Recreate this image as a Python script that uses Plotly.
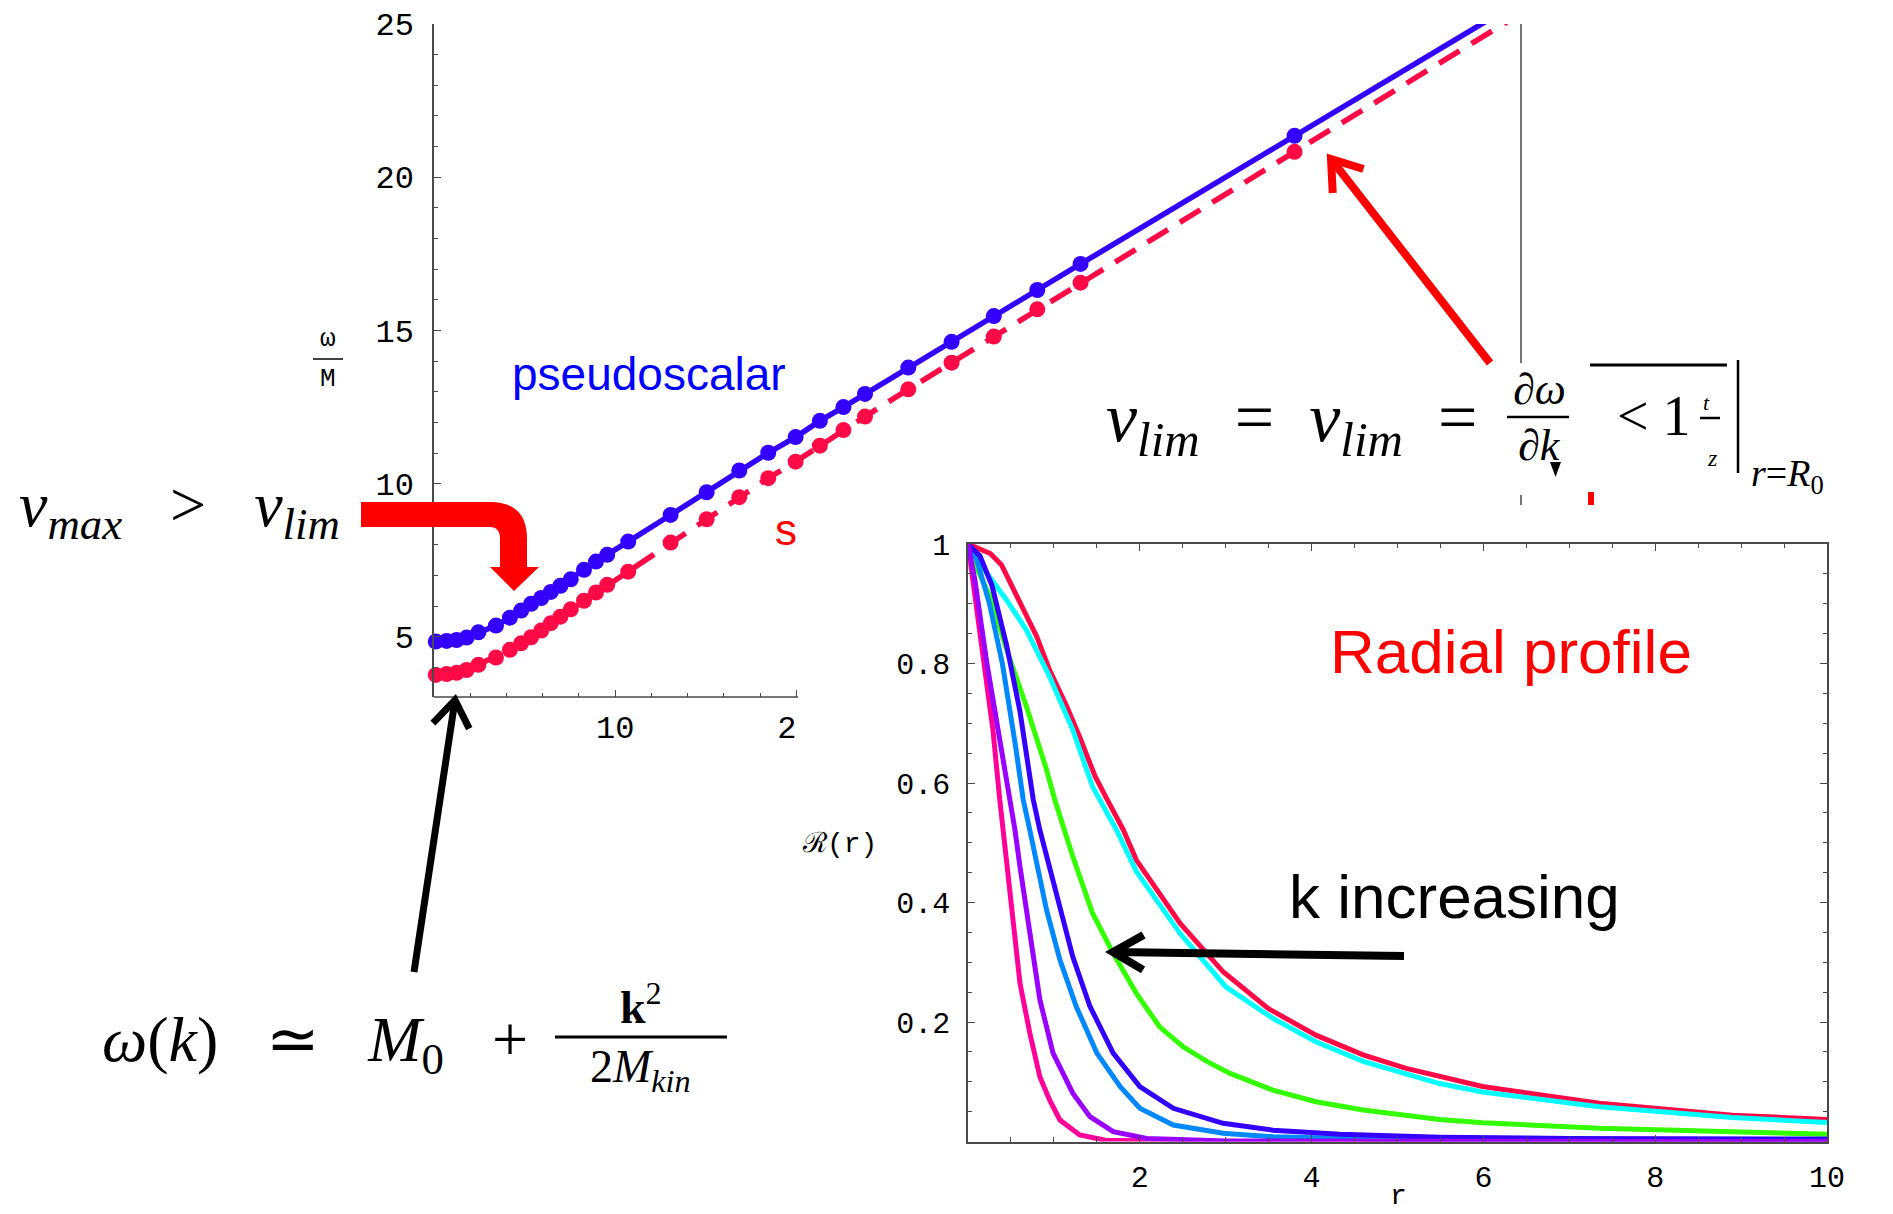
import math
import plotly.graph_objects as go

W, H = 1893, 1214

# ---------------- data: dispersion relation (main plot) ----------------
k_pts = [0.1, 0.7, 1.25, 1.8, 2.45, 3.42, 4.19, 4.81, 5.36, 5.92, 6.45, 6.98, 7.55,
         8.28, 8.94, 9.56, 10.72, 13.06, 15.05, 16.85, 18.45, 19.96, 21.3, 22.6,
         23.79, 26.18, 28.57, 30.9, 33.3, 35.69, 47.5]
omega_ps = [4.85, 4.87, 4.90, 4.98, 5.15, 5.37, 5.63, 5.86, 6.08, 6.27, 6.47, 6.67, 6.88,
            7.19, 7.46, 7.68, 8.11, 8.98, 9.72, 10.43, 11.01, 11.52, 12.05, 12.5,
            12.93, 13.79, 14.63, 15.47, 16.32, 17.17, 21.35]
omega_s = [3.76, 3.79, 3.83, 3.92, 4.09, 4.33, 4.58, 4.79, 4.99, 5.21, 5.45, 5.66, 5.90,
           6.18, 6.45, 6.70, 7.13, 8.08, 8.84, 9.56, 10.18, 10.72, 11.24, 11.75,
           12.19, 13.08, 13.95, 14.80, 15.69, 16.56, 20.83]
k_edge = 60
omega_ps_edge = 25.77
omega_s_edge = 25.35

main_xticks = [10, 20]
main_xticktext = ["10", "20"]
main_yticks = [5, 10, 15, 20, 25]

# ---------------- data: radial profiles (inset) ----------------
r_red = [0, 0.26, 0.39, 0.50, 0.64, 0.80, 0.95, 1.15, 1.30, 1.48, 1.61, 1.81, 1.96, 2.47,
         2.97, 3.49, 4.05, 4.60, 5.10, 5.99, 7.35, 8.9, 10]
R_red = [1, 0.984, 0.965, 0.934, 0.892, 0.845, 0.789, 0.728, 0.677, 0.611, 0.575, 0.521,
         0.471, 0.365, 0.284, 0.223, 0.178, 0.145, 0.1225, 0.092, 0.064, 0.044, 0.037]
r_cyan = [0, 0.06, 0.22, 0.45, 0.68, 0.95, 1.22, 1.45, 1.73, 1.96, 2.47, 3.0, 3.55, 4.05,
          4.6, 5.49, 5.99, 7.35, 8.9, 10]
R_cyan = [1, 0.984, 0.951, 0.906, 0.856, 0.778, 0.689, 0.594, 0.521, 0.452, 0.348, 0.259,
          0.206, 0.167, 0.134, 0.097, 0.083, 0.058, 0.040, 0.032]
r_green = [0, 0.06, 0.256, 0.45, 0.68, 0.915, 1.01, 1.22, 1.45, 1.69, 1.96, 2.23, 2.50,
           2.78, 3.05, 3.55, 4.05, 4.6, 5.49, 5.99, 7.35, 8.9, 10]
R_green = [1, 0.973, 0.912, 0.823, 0.728, 0.622, 0.572, 0.477, 0.382, 0.315, 0.248, 0.192,
           0.159, 0.134, 0.114, 0.086, 0.0666, 0.0527, 0.037, 0.0315, 0.022, 0.0154, 0.012]
r_blue = [0, 0.14, 0.28, 0.45, 0.605, 0.70, 0.76, 0.837, 0.915, 1.07, 1.22, 1.42, 1.69,
          2.0, 2.39, 2.97, 3.55, 4.33, 5.49, 7.0, 10]
R_blue = [1, 0.98, 0.93, 0.83, 0.72, 0.63, 0.572, 0.521, 0.477, 0.393, 0.309, 0.226, 0.148,
          0.092, 0.0556, 0.0305, 0.019, 0.012, 0.007, 0.005, 0.004]
r_azure = [0, 0.1, 0.25, 0.4, 0.55, 0.643, 0.72, 0.78, 0.915, 1.07, 1.26, 1.5, 1.77, 2.0,
           2.39, 2.97, 3.55, 5, 10]
R_azure = [1, 0.975, 0.90, 0.80, 0.665, 0.572, 0.521, 0.477, 0.387, 0.304, 0.226, 0.148,
           0.092, 0.0556, 0.0276, 0.0137, 0.008, 0.003, 0.001]
r_pink = [0, 0.14, 0.29, 0.37, 0.41, 0.49, 0.605, 0.72, 0.837, 0.95, 1.07, 1.30, 1.6, 2.5, 10]
R_pink = [1, 0.856, 0.689, 0.572, 0.521, 0.404, 0.265, 0.181, 0.108, 0.0695, 0.036, 0.011,
          0.002, 0, 0]
r_purple = [0, 0.08, 0.22, 0.39, 0.49, 0.547, 0.605, 0.72, 0.837, 0.99, 1.22, 1.42, 1.69,
            2.08, 3.0, 10]
R_purple = [1, 0.94, 0.80, 0.661, 0.572, 0.521, 0.46, 0.348, 0.237, 0.148, 0.081, 0.0415,
            0.0164, 0.005, 0.001, 0]

inset_xticks = [2, 4, 6, 8, 10]
inset_yticks = [0.2, 0.4, 0.6, 0.8, 1]
inset_yticktext = ["0.2", "0.4", "0.6", "0.8", "1"]

# ---------------- helpers ----------------
def px(x):
    return x / W


def py(y):
    return 1 - y / H


AXC = "#4a4a4a"
MONO = "Liberation Mono"
SANS = "Liberation Sans"
SERIF = "Liberation Serif"

fig = go.Figure()

RED = "#FF0A46"
BLUE = "#3300FF"

# main plot traces
fig.add_trace(go.Scatter(x=k_pts + [k_edge], y=omega_s + [omega_s_edge], mode="lines",
                         line=dict(color=RED, width=5.5, dash="24px,14px"),
                         xaxis="x", yaxis="y", hoverinfo="skip"))
fig.add_trace(go.Scatter(x=k_pts, y=omega_s, mode="markers",
                         marker=dict(color=RED, size=16), cliponaxis=False,
                         xaxis="x", yaxis="y"))
fig.add_trace(go.Scatter(x=k_pts + [k_edge], y=omega_ps + [omega_ps_edge], mode="lines",
                         line=dict(color=BLUE, width=5.5),
                         xaxis="x", yaxis="y", hoverinfo="skip"))
fig.add_trace(go.Scatter(x=k_pts, y=omega_ps, mode="markers",
                         marker=dict(color=BLUE, size=16), cliponaxis=False,
                         xaxis="x", yaxis="y"))

# inset traces
inset_curves = [
    (r_red, R_red, "#FF0A46"),
    (r_cyan, R_cyan, "#00FFFF"),
    (r_green, R_green, "#33FF00"),
    (r_azure, R_azure, "#0088FF"),
    (r_blue, R_blue, "#3300FF"),
    (r_pink, R_pink, "#FF0099"),
    (r_purple, R_purple, "#9900FF"),
]
for rr, RR, col in inset_curves:
    fig.add_trace(go.Scatter(x=rr, y=RR, mode="lines", line=dict(color=col, width=5),
                             xaxis="x2", yaxis="y2", cliponaxis=False))

main_tickfont = dict(family=MONO, size=32, color="black")
inset_tickfont = dict(family=MONO, size=30, color="black")
ML, MR, MT, MB = 434, 1521, 24, 697
IL, IR, IT, IB = 968, 1827, 544, 1141.5
main_dom_x = [px(ML), px(MR)]
main_dom_y = [py(MB), py(MT)]
inset_dom_x = [px(IL), px(IR)]
inset_dom_y = [py(IB), py(IT)]
Y0 = 3.04

common = dict(showgrid=False, zeroline=False, ticks="inside", tickcolor=AXC,
              tickwidth=1.3, ticklen=7, automargin=False)


def minor(vals):
    return dict(tickmode="array", tickvals=vals, ticks="inside", ticklen=4.5,
                tickcolor=AXC, tickwidth=1.2)


fig.update_layout(
    width=W, height=H, autosize=False,
    margin=dict(l=0, r=0, t=0, b=0, pad=0),
    paper_bgcolor="white", plot_bgcolor="white", showlegend=False,
    xaxis=dict(domain=main_dom_x, range=[0, 60], anchor="y", side="bottom",
               showline=False, tickmode="array", tickvals=main_xticks,
               ticktext=main_xticktext, ticklabelstandoff=8, tickfont=main_tickfont,
               minor=minor([2, 4, 6, 8, 12, 14, 16, 18]), **common),
    xaxis3=dict(overlaying="x", anchor="y", side="top", range=[0, 60],
                showline=True, linecolor=AXC, linewidth=1.5, showticklabels=False,
                tickmode="array", tickvals=list(range(0, 61, 10)),
                minor=minor(list(range(0, 61, 2))), **common),
    yaxis=dict(domain=main_dom_y, range=[Y0, 25], anchor="x", side="left",
               showline=True, linecolor=AXC, linewidth=1.5, tickfont=main_tickfont,
               tickmode="array", tickvals=main_yticks, ticklabelstandoff=12,
               minor=minor(list(range(4, 26))), **common),
    yaxis3=dict(overlaying="y", anchor="x", side="right", range=[Y0, 25],
                showline=False, showticklabels=False, tickmode="array",
                tickvals=[15, 20, 25], minor=minor(list(range(14, 26))), **common),
    xaxis2=dict(domain=inset_dom_x, range=[0, 10], anchor="y2", showline=True,
                linecolor=AXC, linewidth=1.5, mirror="ticks", tickmode="array",
                tickvals=inset_xticks, ticklabelstandoff=8, tickfont=inset_tickfont,
                minor=minor([i * 0.5 for i in range(21)]), **common),
    yaxis2=dict(domain=inset_dom_y, range=[0, 1], anchor="x2", showline=True,
                linecolor=AXC, linewidth=1.5, mirror="ticks", tickmode="array",
                tickvals=inset_yticks, ticktext=inset_yticktext, ticklabelstandoff=10,
                tickfont=inset_tickfont,
                minor=minor([i * 0.05 for i in range(21)]), **common),
)

shapes = []


def pline(x0, y0, x1, y1, color, width, layer="above"):
    shapes.append(dict(type="line", xref="paper", yref="paper", x0=px(x0), y0=py(y0),
                       x1=px(x1), y1=py(y1), line=dict(color=color, width=width),
                       layer=layer))


def ppath(cmds, color, fill=None, width=0, closed=True):
    d = ""
    for cmd, pts in cmds:
        d += cmd + " " + " ".join(f"{px(a):.6f},{py(b):.6f}" for a, b in pts) + " "
    if closed:
        d += "Z"
    shapes.append(dict(type="path", xref="paper", yref="paper", path=d.strip(),
                       fillcolor=fill if fill else "rgba(0,0,0,0)",
                       line=dict(color=color, width=width), layer="above"))


def arrow(x0, y0, x1, y1, head, ang, color, width):
    pline(x0, y0, x1, y1, color, width)
    dx, dy = x0 - x1, y0 - y1
    n = math.hypot(dx, dy)
    ux, uy = dx / n, dy / n
    a = math.radians(ang)
    ends = []
    for s in (1, -1):
        c, si = math.cos(a), math.sin(a) * s
        ends.append((x1 + (ux * c - uy * si) * head, y1 + (ux * si + uy * c) * head))
    ppath([("M", [ends[0]]), ("L", [(x1, y1)]), ("L", [ends[1]])], color, width=width,
          closed=False)


# main frame pieces drawn explicitly (partly hidden in the original)
pline(ML, MB, 798, MB, AXC, 1.5)
pline(MR, MT, MR, 363, AXC, 1.5)
pline(MR, 495, MR, 505, AXC, 1.5)
# white patch hiding the cut part of the "20" tick label
shapes.append(dict(type="rect", xref="paper", yref="paper", x0=px(797), x1=px(840),
                   y0=py(748), y1=py(703), fillcolor="white", line=dict(width=0),
                   layer="above"))

# omega / M fraction bar
pline(313, 359, 343, 359, "black", 1.5)

# red bent arrow
ppath([("M", [(361, 502)]), ("L", [(490, 502)]), ("Q", [(527, 502), (527, 539)]),
       ("L", [(527, 567)]), ("L", [(539, 567)]), ("L", [(514, 591)]), ("L", [(490, 567)]),
       ("L", [(500, 567)]), ("L", [(500, 539)]), ("Q", [(500, 527), (490, 527)]),
       ("L", [(361, 527)])], "#FF0000", fill="#FF0000")

# arrows
arrow(414, 972, 455, 700, 32, 35, "black", 7)
arrow(1404, 956, 1113, 952, 35, 30, "black", 8)
arrow(1490, 363, 1331, 159, 34, 35, "#FF0000", 8)

# formula decorations
pline(1507, 417, 1569, 417, "black", 2.5)
pline(1590, 365, 1727, 365, "black", 3)
pline(1738, 360, 1738, 473, "black", 2.5)
pline(1700, 418, 1720, 418, "black", 2.5)
pline(555, 1037, 727, 1037, "black", 3)
ppath([("M", [(1550, 462)]), ("L", [(1561, 462)]), ("L", [(1555.5, 477)])], "black",
      fill="black")
shapes.append(dict(type="rect", xref="paper", yref="paper", x0=px(1588), x1=px(1594),
                   y0=py(505), y1=py(492), fillcolor="#FF0000", line=dict(width=0),
                   layer="above"))

fig.update_layout(shapes=shapes)

# annotations
KFAC = {SANS: 0.35, SERIF: 0.34, MONO: 0.27}


def text(t, x, base, size, family, color="black", xanchor="center", k=None):
    kk = KFAC[family] if k is None else k
    fig.add_annotation(text=t, x=px(x), y=py(base - kk * size), xref="paper", yref="paper",
                       showarrow=False, xanchor=xanchor, yanchor="middle",
                       font=dict(family=family, size=size, color=color))


def text_edge(t, x, y, size, family, yanchor, color="black", xanchor="center"):
    fig.add_annotation(text=t, x=px(x), y=py(y), xref="paper", yref="paper",
                       showarrow=False, xanchor=xanchor, yanchor=yanchor,
                       font=dict(family=family, size=size, color=color))


text("pseudoscalar", 649, 390, 46, SANS, "#0000FF")
text("s", 786, 545, 44, SANS, "#FF0000")
text("Radial profile", 1328, 673, 62, SANS, "#FF0000", xanchor="left")
text("k increasing", 1287, 918, 62, SANS, "black", xanchor="left")

text_edge("ω", 328, 356, 26, MONO, "bottom")
text_edge("M", 328, 362, 26, MONO, "top")
text("ℛ(r)", 839, 852, 28, MONO)
text_edge("r", 1398, 1214, 28, MONO, "bottom")

text("<i>v</i><sub><i>max</i></sub>&nbsp;&nbsp;&nbsp;&gt;&nbsp;&nbsp;&nbsp;<i>v</i><sub><i>lim</i></sub>",
     17, 525, 64, SERIF, xanchor="left", k=0.25)
text("<i>v</i><sub><i>lim</i></sub>&nbsp;&nbsp;=&nbsp;&nbsp;<i>v</i><sub><i>lim</i></sub>&nbsp;&nbsp;=",
     1104, 440, 70, SERIF, xanchor="left", k=0.25)
text_edge("∂<i>ω</i>", 1539, 416, 44, SERIF, "bottom")
text_edge("∂<i>k</i>", 1539, 419, 44, SERIF, "top")
text("&lt;&nbsp;1", 1654, 435, 56, SERIF)
text("<i>t</i>", 1706, 410, 22, SERIF)
text("<i>z</i>", 1712, 466, 24, SERIF)
text("<i>r</i>=<i>R</i><sub>0</sub>", 1749, 485, 38, SERIF, xanchor="left", k=0.25)
text("<i>ω</i>(<i>k</i>)&nbsp;&nbsp;&nbsp;≃&nbsp;&nbsp;&nbsp;<i>M</i><sub>0</sub>&nbsp;&nbsp;&nbsp;+",
     100, 1060, 64, SERIF, xanchor="left", k=0.25)
text_edge("<b>k</b><sup>2</sup>", 641, 1035, 46, SERIF, "bottom")
text_edge("2<i>M</i><sub><i>kin</i></sub>", 640, 1039, 46, SERIF, "top")

fig.write_html("out.html")
